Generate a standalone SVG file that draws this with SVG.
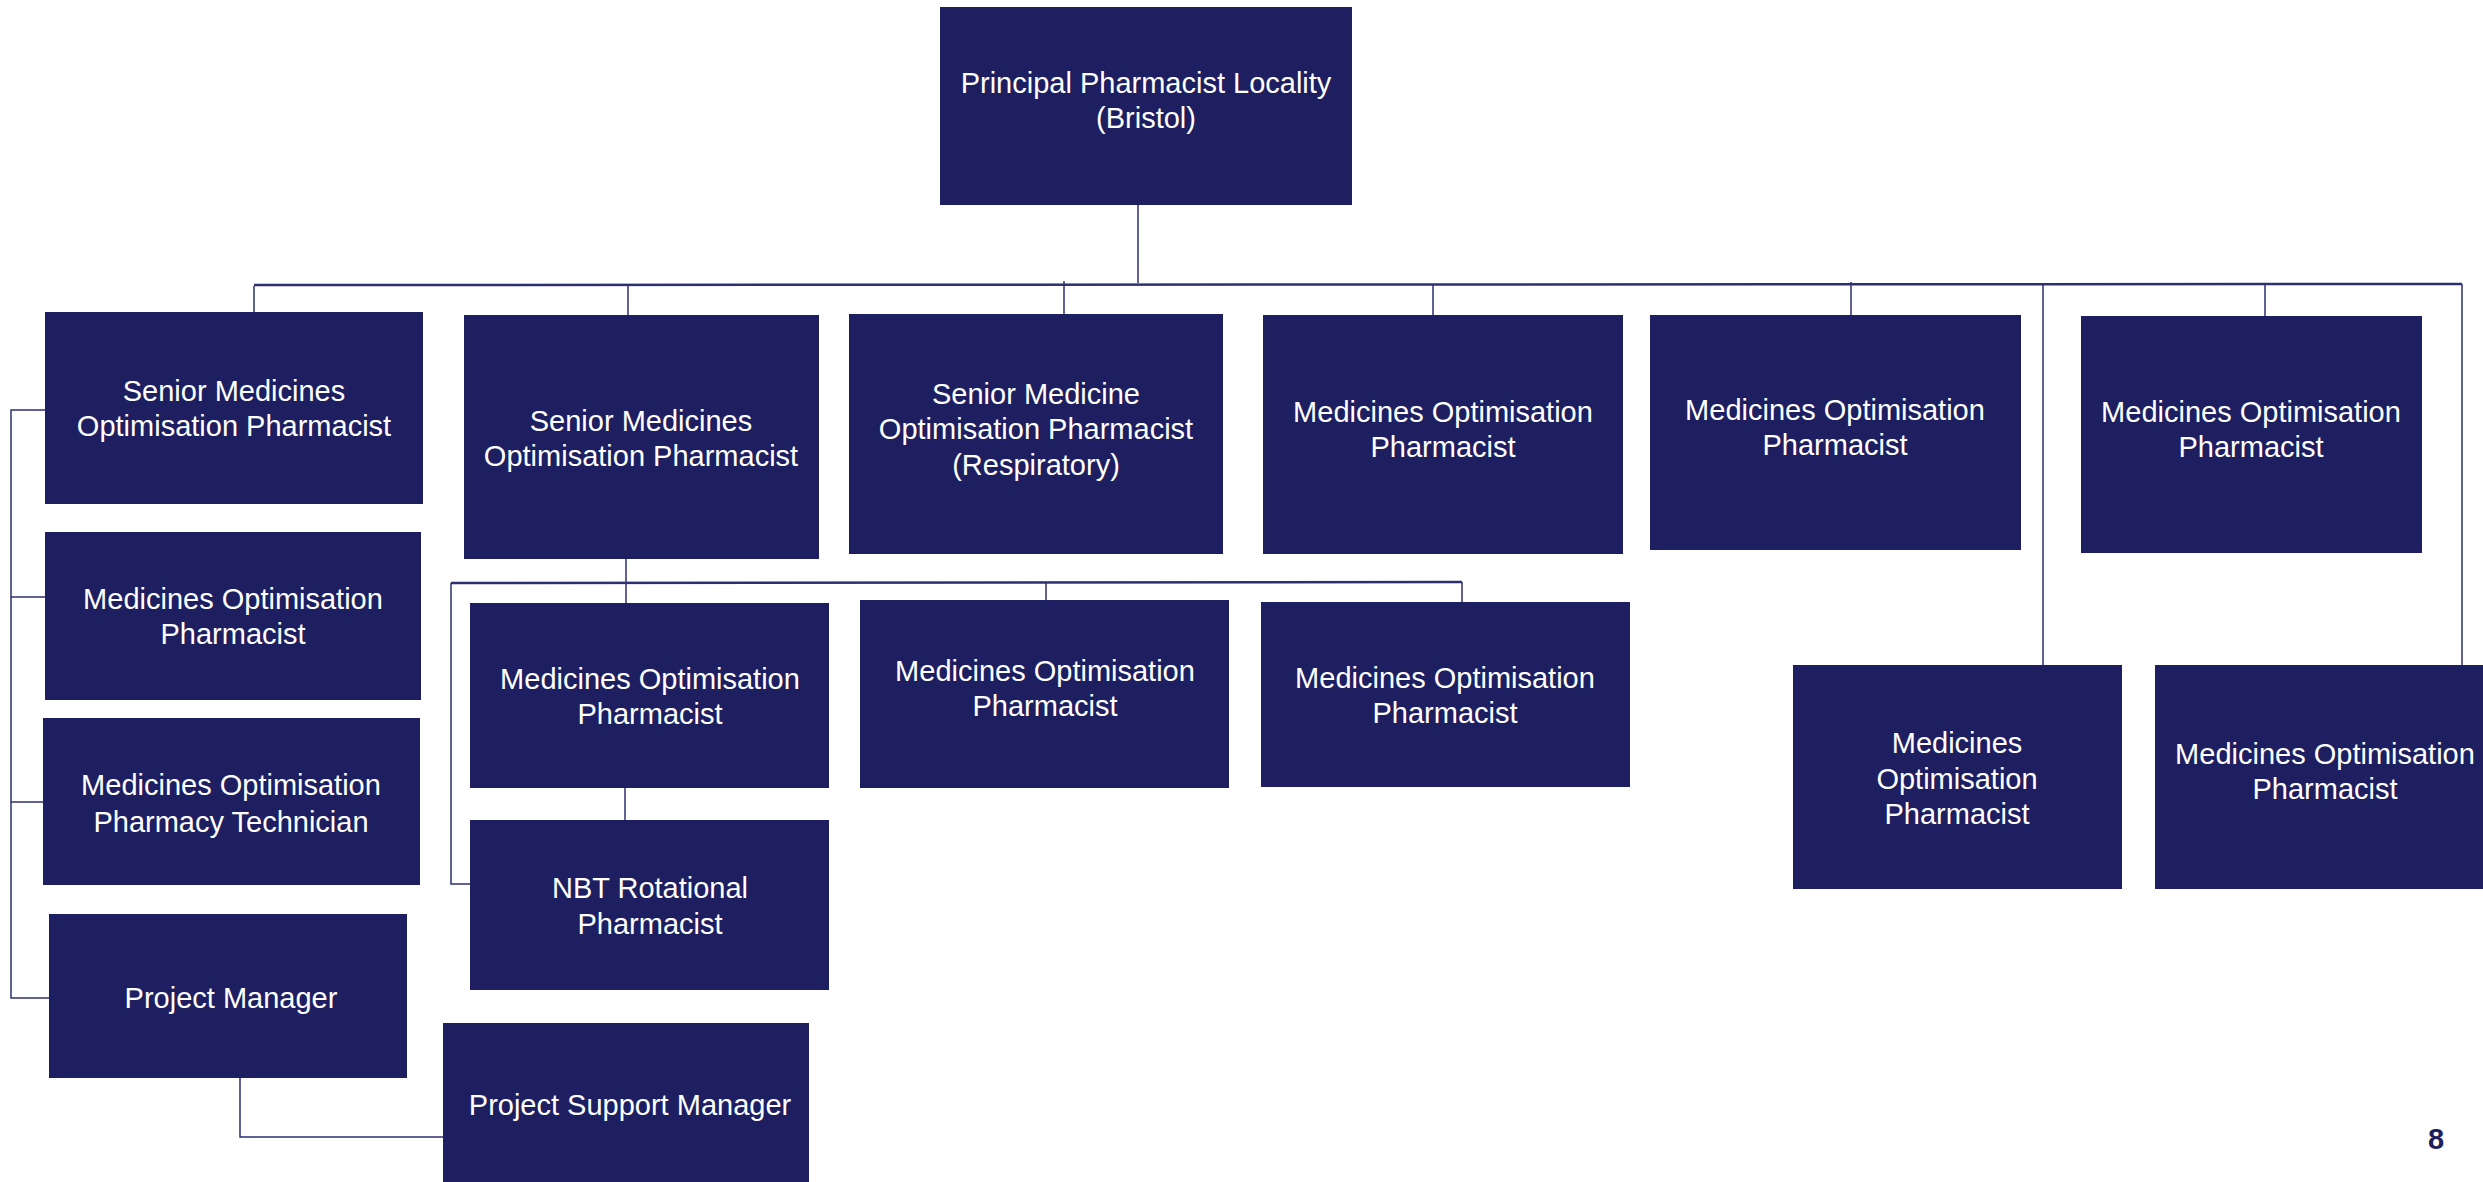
<svg xmlns="http://www.w3.org/2000/svg" width="2483" height="1182" viewBox="0 0 2483 1182">
<style>
.box{fill:#1e1f60}
.t{font-family:"Liberation Sans",Arial,sans-serif;font-size:29px;fill:#ffffff;text-anchor:middle}
.ln{stroke:#2c2f70;stroke-width:1.5;fill:none}
.bus{stroke:#2c2f70;stroke-width:2.5;fill:none}
.pg{font-family:"Liberation Sans",Arial,sans-serif;font-size:29px;font-weight:bold;fill:#1e1f60;text-anchor:middle}
</style>
<rect width="2483" height="1182" fill="#ffffff"/>
<g id="connectors">
<line class="ln" x1="1138" y1="205" x2="1138" y2="283"/>
<line class="bus" x1="254" y1="285" x2="2462" y2="284"/>
<line class="ln" x1="254" y1="286" x2="254" y2="312"/>
<line class="ln" x1="628" y1="286" x2="628" y2="315"/>
<line class="ln" x1="1064" y1="281" x2="1064" y2="314"/>
<line class="ln" x1="1433" y1="285" x2="1433" y2="315"/>
<line class="ln" x1="1851" y1="282" x2="1851" y2="315"/>
<line class="ln" x1="2043" y1="285" x2="2043" y2="665"/>
<line class="ln" x1="2265" y1="285" x2="2265" y2="316"/>
<line class="ln" x1="2462" y1="284" x2="2462" y2="665"/>
<polyline class="ln" points="45,410 11,410 11,998 49,998"/>
<line class="ln" x1="11" y1="597" x2="45" y2="597"/>
<line class="ln" x1="11" y1="802" x2="43" y2="802"/>
<line class="ln" x1="626" y1="559" x2="626" y2="603"/>
<line class="bus" x1="451" y1="583" x2="1462" y2="582"/>
<polyline class="ln" points="451,583 451,884 470,884"/>
<line class="ln" x1="1046" y1="582" x2="1046" y2="600"/>
<line class="ln" x1="1462" y1="582" x2="1462" y2="602"/>
<line class="ln" x1="625" y1="787" x2="625" y2="820"/>
<polyline class="ln" points="240,1077 240,1137 443,1137"/>
</g>
<g id="n-principal"><rect class="box" x="940" y="7" width="412" height="198"/><text class="t" x="1146" y="93">Principal Pharmacist Locality</text><text class="t" x="1146" y="128">(Bristol)</text></g>
<g id="n-senior1"><rect class="box" x="45" y="312" width="378" height="192"/><text class="t" x="234" y="401">Senior Medicines</text><text class="t" x="234" y="436">Optimisation Pharmacist</text></g>
<g id="n-senior2"><rect class="box" x="464" y="315" width="355" height="244"/><text class="t" x="641" y="431">Senior Medicines</text><text class="t" x="641" y="466">Optimisation Pharmacist</text></g>
<g id="n-senior3"><rect class="box" x="849" y="314" width="374" height="240"/><text class="t" x="1036" y="404">Senior Medicine</text><text class="t" x="1036" y="439">Optimisation Pharmacist</text><text class="t" x="1036" y="475">(Respiratory)</text></g>
<g id="n-mop1"><rect class="box" x="1263" y="315" width="360" height="239"/><text class="t" x="1443" y="422">Medicines Optimisation</text><text class="t" x="1443" y="457">Pharmacist</text></g>
<g id="n-mop2"><rect class="box" x="1650" y="315" width="371" height="235"/><text class="t" x="1835" y="420">Medicines Optimisation</text><text class="t" x="1835" y="455">Pharmacist</text></g>
<g id="n-mop3"><rect class="box" x="2081" y="316" width="341" height="237"/><text class="t" x="2251" y="422">Medicines Optimisation</text><text class="t" x="2251" y="457">Pharmacist</text></g>
<g id="n-mop4"><rect class="box" x="1793" y="665" width="329" height="224"/><text class="t" x="1957" y="753">Medicines</text><text class="t" x="1957" y="789">Optimisation</text><text class="t" x="1957" y="824">Pharmacist</text></g>
<g id="n-mop5"><rect class="box" x="2155" y="665" width="328" height="224"/><text class="t" x="2325" y="764">Medicines Optimisation</text><text class="t" x="2325" y="799">Pharmacist</text></g>
<g id="n-left-mop"><rect class="box" x="45" y="532" width="376" height="168"/><text class="t" x="233" y="609">Medicines Optimisation</text><text class="t" x="233" y="644">Pharmacist</text></g>
<g id="n-tech"><rect class="box" x="43" y="718" width="377" height="167"/><text class="t" x="231" y="795">Medicines Optimisation</text><text class="t" x="231" y="832">Pharmacy Technician</text></g>
<g id="n-pm"><rect class="box" x="49" y="914" width="358" height="164"/><text class="t" x="231" y="1008">Project Manager</text></g>
<g id="n-psm"><rect class="box" x="443" y="1023" width="366" height="159"/><text class="t" x="630" y="1115">Project Support Manager</text></g>
<g id="n-r2a"><rect class="box" x="470" y="603" width="359" height="185"/><text class="t" x="650" y="689">Medicines Optimisation</text><text class="t" x="650" y="724">Pharmacist</text></g>
<g id="n-r2b"><rect class="box" x="860" y="600" width="369" height="188"/><text class="t" x="1045" y="681">Medicines Optimisation</text><text class="t" x="1045" y="716">Pharmacist</text></g>
<g id="n-r2c"><rect class="box" x="1261" y="602" width="369" height="185"/><text class="t" x="1445" y="688">Medicines Optimisation</text><text class="t" x="1445" y="723">Pharmacist</text></g>
<g id="n-nbt"><rect class="box" x="470" y="820" width="359" height="170"/><text class="t" x="650" y="898">NBT Rotational</text><text class="t" x="650" y="934">Pharmacist</text></g>
<text class="pg" x="2436" y="1149">8</text>
</svg>
